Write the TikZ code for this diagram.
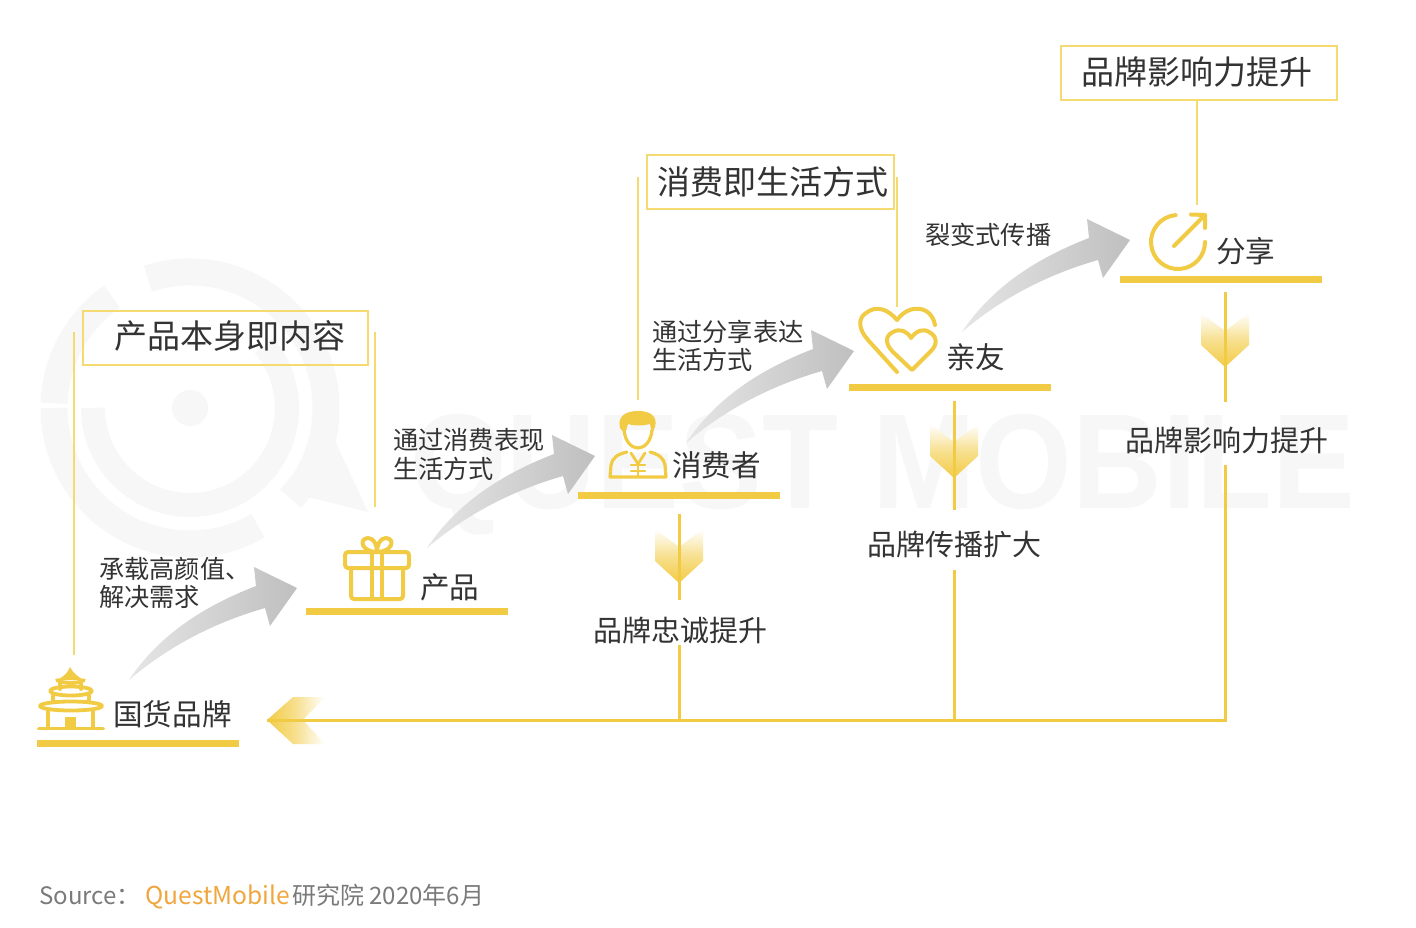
\documentclass[tikz,border=0pt]{standalone}
\usepackage{fontspec}
\setmainfont{Noto Sans CJK SC}
\newfontfamily\wmfont{Liberation Sans}
\usetikzlibrary{calc}
\definecolor{gold}{HTML}{F2CB45}
\definecolor{thin}{HTML}{F4DA70}
\definecolor{ink}{HTML}{333333}
\definecolor{wm}{HTML}{F7F7F7}
\definecolor{srcgray}{HTML}{7A7A7A}
\definecolor{srcorange}{HTML}{F0A63C}
\newcommand{\fs}[1]{\fontsize{#1}{#1}\selectfont}
\tikzset{
  titlebox/.style={draw=thin,line width=1.6pt,inner sep=0pt},
  titletext/.style={text=ink,inner sep=0pt,font=\fs{33}},
  sideline/.style={draw=thin,line width=2pt},
  trunk/.style={draw=gold,line width=3pt},
  shelf/.style={fill=gold},
  icon/.style={draw=gold,line width=4pt,line cap=round,line join=round},
  templeline/.style={draw=gold,line width=3.8pt,line cap=round,line join=round},
  stage/.style={text=ink,inner sep=0pt,font=\fs{29.6},anchor=west},
  edgelabel/.style={text=ink,inner sep=0pt,align=left,anchor=west,font=\fs{25.2}},
  result/.style={text=ink,inner sep=0pt,font=\fs{29}},
}
\newcommand{\grayarrow}[1]{%
  \begin{scope}[shift={(#1)}]
    \shade[left color=gray!20,right color=gray!50,draw=none]
      (0,0) .. controls (28,-42) and (70,-72) .. (127,-94)
      -- (125,-113) -- (168,-92) -- (141,-54) -- (136,-72)
      .. controls (80,-56) and (35,-30) .. (0,0) -- cycle;
  \end{scope}}
\newcommand{\downchev}[1]{%
  \begin{scope}[shift={(#1)}]
    \shade[top color=white,bottom color=gold,middle color=gold!60,draw=none]
      (0,0) -- (-24,-22) -- (-24,-54) -- (0,-36) -- (24,-54) -- (24,-22) -- cycle;
  \end{scope}}
\begin{document}
\begin{tikzpicture}[x=1pt,y=-1pt]
\useasboundingbox[fill=white] (0,0) rectangle (1416,928);

% watermark
\coordinate (wmc) at (190,408);
\fill[wm] (wmc) circle[radius=18pt];
\draw[wm,line width=27pt] (wmc) ++(108:136pt) arc[start angle=108,end angle=-42,radius=136pt];
\draw[wm,line width=27pt] (wmc) ++(125:136pt) arc[start angle=125,end angle=178,radius=136pt];
\draw[wm,line width=27pt] (wmc) ++(180:136pt) arc[start angle=180,end angle=300,radius=136pt];
\draw[wm,line width=24pt] (wmc) ++(180:97pt) arc[start angle=180,end angle=400,radius=97pt];
\fill[wm] (280,490) -- (368,512) -- (330,430) -- cycle;
\node[wm,inner sep=0pt,anchor=base west,xscale=0.92,font=\wmfont\bfseries\fs{135}] (wmtext) at (410,508) {QUEST MOBILE};

% title boxes
\node[titlebox,minimum width=285pt,minimum height=54pt] (boxA) at (225.5,338) {};
\node[titletext] (boxAt) at (230,336) {产品本身即内容};
\node[titlebox,minimum width=247pt,minimum height=54pt] (boxB) at (770.5,182) {};
\node[titletext] (boxBt) at (773,182) {消费即生活方式};
\node[titlebox,minimum width=276pt,minimum height=54pt] (boxC) at (1199,73) {};
\node[titletext] (boxCt) at (1197,72) {品牌影响力提升};

% bracket lines
\coordinate (a1) at (74,332);  \coordinate (a2) at (74,655);
\coordinate (a3) at (375,332); \coordinate (a4) at (375,507);
\coordinate (b1) at (638,177); \coordinate (b2) at (638,400);
\coordinate (b3) at (897,177); \coordinate (b4) at (897,307);
\coordinate (c1) at (1197,100); \coordinate (c2) at (1197,205);
\draw[sideline] (a1) -- (a2);
\draw[sideline] (a3) -- (a4);
\draw[sideline] (b1) -- (b2);
\draw[sideline] (b3) -- (b4);
\draw[sideline] (c1) -- (c2);

% shelves
\fill[shelf] (37,740) rectangle (239,747);
\fill[shelf] (306,608) rectangle (508,615);
\fill[shelf] (578,492) rectangle (780,499);
\fill[shelf] (849,384) rectangle (1051,391);
\fill[shelf] (1120,276) rectangle (1322,283);

% gray arrows
\coordinate (g1) at (129,680);
\coordinate (g2) at (427,548);
\coordinate (g3) at (686,443);
\coordinate (g4) at (962,332);
\grayarrow{g1}\grayarrow{g2}\grayarrow{g3}\grayarrow{g4}

% stage labels
\node[stage] (s1) at (113,714) {国货品牌};
\node[stage] (s2) at (420,587) {产品};
\node[stage] (s3) at (672,465) {消费者};
\node[stage] (s4) at (946,357) {亲友};
\node[stage] (s5) at (1216,251) {分享};

% edge labels
\node[edgelabel] (e1a) at (99,569) {承载高颜值、};
\node[edgelabel] (e1b) at (99,597) {解决需求};
\node[edgelabel] (e2a) at (393,440) {通过消费表现};
\node[edgelabel] (e2b) at (393,469) {生活方式};
\node[edgelabel] (e3a) at (652,332) {通过分享表达};
\node[edgelabel] (e3b) at (652,360) {生活方式};
\node[edgelabel] (e4) at (925,235) {裂变式传播};

% chevrons
\coordinate (t1) at (679,583);
\coordinate (t2) at (954,478);
\coordinate (t3) at (1225,367);
\downchev{t1}\downchev{t2}\downchev{t3}
\shade[left color=gold,right color=white,middle color=gold!60,draw=none]
  (267,720) -- (293,697) -- (325,697) -- (303,720) -- (325,744) -- (293,744) -- cycle;

% result labels and trunk lines
\node[result] (r1) at (680.5,630) {品牌忠诚提升};
\node[result] (r2) at (954.5,545) {品牌传播扩大};
\node[result] (r3) at (1226.5,440) {品牌影响力提升};
\coordinate (p1) at (679,514); \coordinate (p2) at (679,600); \coordinate (p3) at (679,645); \coordinate (p4) at (679,720);
\coordinate (q1) at (954,401); \coordinate (q2) at (954,510); \coordinate (q3) at (954,570); \coordinate (q4) at (954,720);
\coordinate (u1) at (1225,292); \coordinate (u2) at (1225,402); \coordinate (u3) at (1225,465); \coordinate (u4) at (1225,720);
\coordinate (arrowtip) at (267,720);
\draw[trunk] (p1) -- (p2);
\draw[trunk] (q1) -- (q2);
\draw[trunk] (u1) -- (u2);
\draw[trunk] (p3) -- (p4);
\draw[trunk] (q3) -- (q4);
\draw[trunk,line join=miter] (u3) -- (u4) -- (arrowtip);

% temple icon
\fill[gold] (70,667) .. controls (68,673) and (63,677) .. (57,680) -- (84,680) .. controls (78,677) and (73,673) .. (70,667) -- cycle;
\draw[templeline] (57,680) .. controls (64,684) and (78,684) .. (84,680);
\draw[templeline] (60,683) -- (60,689);
\draw[templeline] (81,683) -- (81,689);
\draw[templeline] (71,691) ellipse[x radius=21pt,y radius=4.5pt];
\draw[templeline] (53,696) -- (53,702);
\draw[templeline] (89,696) -- (89,702);
\draw[templeline] (71,706) ellipse[x radius=31pt,y radius=4.5pt];
\draw[templeline] (48,711) -- (48,727);
\draw[templeline] (93,711) -- (93,727);
\draw[templeline] (39,728.5) -- (103,728.5);
\fill[gold] (65,717) rectangle (76,729);

% gift icon
\draw[icon,rounded corners=3pt] (345,552) rectangle (409,568);
\draw[icon,rounded corners=3pt] (351,568) -- (351,599) -- (403,599) -- (403,568);
\draw[icon] (372,552) -- (372,599);
\draw[icon] (382,552) -- (382,599);
\draw[icon] (377,552) .. controls (362,552) and (358,539) .. (368,538) .. controls (374,538) and (377,545) .. (377,552);
\draw[icon] (377,552) .. controls (392,552) and (396,539) .. (386,538) .. controls (380,538) and (377,545) .. (377,552);

% person icon
\fill[gold] (620,428) .. controls (617,416) and (626,411) .. (638,411) .. controls (650,411) and (658,416) .. (655,427) -- (652,434) -- (650,424) .. controls (642,426) and (634,426) .. (628,424) -- (625,434) -- cycle;
\draw[icon,line width=3.2pt] (624,430) .. controls (625,441) and (631,448) .. (638,448) .. controls (645,448) and (651,441) .. (652,430);
\draw[icon,line width=3.2pt] (627,452) .. controls (618,454) and (612,458) .. (611,465) -- (610,477) -- (666,477) -- (665,465) .. controls (664,458) and (658,454) .. (650,452);
\draw[icon,line width=2.8pt] (631,453) -- (638,464) -- (645,453);
\draw[icon,line width=2.8pt] (638,464) -- (638,477);
\draw[icon,line width=2.6pt] (631,465) -- (645,465);
\draw[icon,line width=2.6pt] (631,471) -- (645,471);

% hearts icon
\draw[icon] (897,372) -- (868,340) .. controls (858,329) and (858,318) .. (866,313) .. controls (876,305) and (888,309) .. (897,320) .. controls (905,309) and (917,306) .. (926,311) .. controls (931,314) and (934,319) .. (935,325);
\draw[icon] (912,370) -- (893,352) .. controls (884,343) and (886,335) .. (893,332) .. controls (900,328) and (907,331) .. (911,338) .. controls (916,331) and (923,328) .. (929,332) .. controls (937,336) and (938,344) .. (931,351) -- cycle;

% share icon
\draw[icon] (1178,242) ++(95:27pt) arc[start angle=95,end angle=360,radius=27pt];
\draw[icon] (1174,246) -- (1205,215);
\draw[icon] (1191,214.5) -- (1205,215) -- (1205,228);

% source
\node[inner sep=0pt,anchor=base west,text=srcgray,font=\fs{24}] (src1) at (39,904) {Source：};
\node[inner sep=0pt,anchor=base west,text=srcorange,font=\fs{24.6}] (src2) at (145,904) {QuestMobile};
\node[inner sep=0pt,anchor=base west,text=srcgray,font=\fs{24}] (src3) at (292,904) {研究院 2020年6月};
\end{tikzpicture}
\end{document}
